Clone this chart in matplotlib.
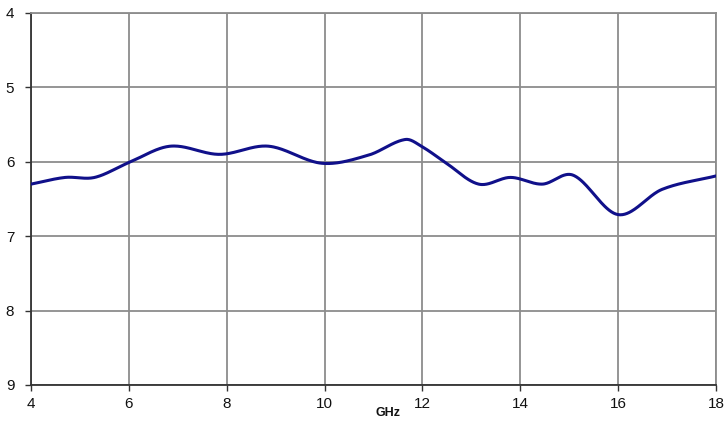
import numpy as np
import matplotlib
matplotlib.use("Agg")
import matplotlib.pyplot as plt

plt.rcParams['font.family'] = ['Liberation Sans', 'DejaVu Sans']

# frequency (GHz) and measured value
freq_ghz = [4.0, 4.7, 5.3, 6.0, 6.85, 7.85, 8.85, 9.95, 10.9, 11.65,
            12.0, 12.45, 13.15, 13.8, 14.45, 15.08, 16.0, 16.9, 18.0]
value = [6.30, 6.21, 6.21, 6.01, 5.79, 5.90, 5.79, 6.02, 5.91, 5.70,
         5.80, 6.00, 6.30, 6.21, 6.30, 6.18, 6.71, 6.37, 6.19]
x_ticks = [4, 6, 8, 10, 12, 14, 16, 18]
y_ticks = [4, 5, 6, 7, 8, 9]


def smooth(xs, ys, n=40):
    """Cubic Hermite curve through the points, Catmull-Rom slopes in x."""
    x = np.asarray(xs, float)
    y = np.asarray(ys, float)
    m = np.empty_like(y)
    m[1:-1] = (y[2:] - y[:-2]) / (x[2:] - x[:-2])
    m[0] = (y[1] - y[0]) / (x[1] - x[0])
    m[-1] = (y[-1] - y[-2]) / (x[-1] - x[-2])
    px, py = [], []
    for i in range(len(x) - 1):
        h = x[i + 1] - x[i]
        t = np.linspace(0, 1, n, endpoint=False)
        h00 = 2 * t ** 3 - 3 * t ** 2 + 1
        h10 = t ** 3 - 2 * t ** 2 + t
        h01 = -2 * t ** 3 + 3 * t ** 2
        h11 = t ** 3 - t ** 2
        px.append(x[i] + t * h)
        py.append(h00 * y[i] + h10 * h * m[i] + h01 * y[i + 1] + h11 * h * m[i + 1])
    px.append([x[-1]])
    py.append([y[-1]])
    return np.concatenate(px), np.concatenate(py)


fig = plt.figure(figsize=(7.28, 4.25), dpi=100)
ax = fig.add_axes([31 / 728, 40 / 425, 685 / 728, 372 / 425])

sx, sy = smooth(freq_ghz, value)
ax.plot(sx, sy, color='#10108a', lw=2.2, solid_capstyle='round', zorder=3)

ax.set_xlim(4, 18)
ax.set_ylim(9, 4)
ax.set_xticks(x_ticks)
ax.set_yticks(y_ticks)
ax.grid(True, color='#8c8c8c', lw=1.3)
ax.set_axisbelow(True)

for side in ['top', 'right']:
    ax.spines[side].set_color('#8c8c8c')
    ax.spines[side].set_linewidth(1.3)
for side in ['left', 'bottom']:
    ax.spines[side].set_color('#333333')
    ax.spines[side].set_linewidth(1.3)

ax.tick_params(axis='both', direction='out', length=4, width=1,
               color='#333333', labelsize=11, labelcolor='#111111')
ax.tick_params(axis='y', pad=8)
ax.tick_params(axis='x', pad=5)

fig.text(388 / 728, 1 - 413 / 425, 'GHz', fontsize=9, fontweight='bold',
         ha='center', va='center', color='#111111')

fig.savefig('out.png', dpi=100)
